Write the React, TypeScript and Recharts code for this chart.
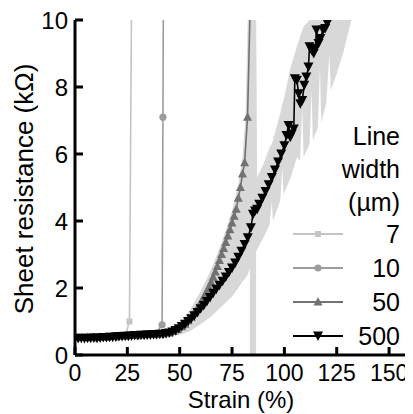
import React from 'react';
import { ComposedChart, Line, Area, XAxis, YAxis, Legend, Label } from 'recharts';

const W = 405;
const H = 406;
const FONT = '"Liberation Sans", Arial, Helvetica, sans-serif';

const xTicks = [0, 25, 50, 75, 100, 125, 150];
const yTicks = [0, 2, 4, 6, 8, 10];
const topTicks = [25, 50, 75, 100, 125, 150];
const rightTicks = [2, 4, 6, 8];
const seriesNames = ['7', '10', '50', '500'];
const legendTitle = ['Line', 'width', '(µm)'];
const xLabel = 'Strain (%)';
const yLabel = 'Sheet resistance (kΩ)';

const colors = ['#c4c4c4', '#9c9c9c', '#727272', '#000000'];
const shapes = ['square', 'circle', 'up', 'down'];

// [strain %, resistance kΩ]
const w7: number[][] = [[0, 0.5], [8, 0.5], [16, 0.52], [24, 0.55], [26, 1.0], [27, 10.5]];
const w10: number[][] = [[0, 0.5], [10, 0.5], [20, 0.53], [30, 0.57], [38, 0.6], [41.6, 0.9], [42, 7.1], [42.2, 10.5]];
const w50: number[][] = [
  [0, 0.52], [3, 0.52], [6, 0.52], [9, 0.53], [12, 0.53], [15, 0.54], [18, 0.55], [21, 0.56], [24, 0.57],
  [27, 0.58], [30, 0.59], [33, 0.6], [36, 0.61], [39, 0.62], [42, 0.63], [45, 0.66], [47, 0.7], [49, 0.76],
  [51, 0.84], [52.5, 0.92], [54, 1.02], [55.5, 1.13], [57, 1.26], [58.5, 1.4], [60, 1.55], [61, 1.66],
  [62, 1.78], [63, 1.9], [64, 2.03], [65, 2.17], [66, 2.32], [67, 2.48], [68, 2.64], [69, 2.82], [70, 3.0],
  [71, 3.18], [72, 3.36], [73, 3.55], [74, 3.74], [75, 3.94], [76, 4.14], [77, 4.35], [78, 4.68], [79, 5.0],
  [80, 5.4], [81, 5.74], [82.4, 7.1], [83.7, 10.5],
];
const w500: number[][] = [
  [0, 0.5], [1.5, 0.49], [3, 0.5], [4.5, 0.49], [6, 0.5], [7.5, 0.5], [9, 0.51], [10.5, 0.5], [12, 0.51],
  [13.5, 0.52], [15, 0.52], [16.5, 0.53], [18, 0.53], [19.5, 0.54], [21, 0.55], [22.5, 0.55], [24, 0.56],
  [25.5, 0.56], [27, 0.57], [28.5, 0.58], [30, 0.58], [31.5, 0.59], [33, 0.59], [34.5, 0.6], [36, 0.6],
  [37.5, 0.61], [39, 0.61], [40.5, 0.62], [42, 0.62], [43.5, 0.64], [45, 0.66], [46.5, 0.69], [48, 0.73],
  [49.5, 0.78], [51, 0.85], [52.5, 0.92], [54, 1.0], [55.5, 1.08], [57, 1.17], [58.5, 1.27], [60, 1.38],
  [61.5, 1.48], [63, 1.6], [64.5, 1.72], [66, 1.84], [67.5, 1.96], [69, 2.08], [70.5, 2.2], [72, 2.33],
  [73.5, 2.46], [75, 2.6], [76.5, 2.75], [78, 2.92], [79.5, 3.1], [81, 3.3], [82.5, 3.5], [84, 3.8],
  [85, 4.2], [86, 4.3], [87, 4.35], [88, 4.5], [89.5, 4.68], [91, 4.88], [92.5, 5.08], [94, 5.3],
  [95.5, 5.52], [97, 5.76], [98.5, 6.0], [100, 6.25], [101, 6.55], [102, 6.85], [102.8, 6.5], [103.5, 6.6],
  [104.5, 6.75], [105, 8.25], [106, 8.2], [106.8, 7.8], [107.6, 7.5], [108.5, 7.6], [109.5, 8.05],
  [110.5, 8.3], [111.5, 8.6], [112, 9.2], [113, 9.1], [114, 9.0], [114.8, 9.15], [115.3, 9.7], [116.3, 9.3],
  [117.2, 9.45], [118.5, 9.7], [119.5, 9.75], [120.5, 9.9], [121.5, 10.1], [122, 10.5],
];
// [strain, lower, upper] of the grey spread
const spread: number[][] = [
  [45, 0.55, 0.7], [50, 0.6, 0.95], [55, 0.72, 1.35], [60, 0.92, 1.9], [65, 1.15, 2.55], [70, 1.45, 3.35],
  [75, 1.75, 4.3], [78, 2.0, 5.1], [80, 2.2, 5.9], [81.5, 2.3, 7.2], [82.5, 2.4, 10], [86.5, 3.1, 10],
  [87, 3.15, 5.3], [90, 3.5, 5.7], [93, 3.9, 6.2], [94, 4.6, 6.3], [94.5, 4.0, 6.4], [98, 4.6, 7.2],
  [99, 5.6, 7.5], [99.6, 4.8, 7.6], [103, 5.3, 8.6], [106, 5.9, 9.2], [107.5, 5.8, 9.5], [108.5, 7.4, 9.7],
  [109.2, 5.9, 9.8], [112, 6.3, 10], [113, 7.9, 10], [113.6, 6.4, 10], [116, 6.8, 10], [117, 8.6, 10],
  [117.6, 6.95, 10], [120, 7.5, 10], [121.5, 9.0, 10], [122.2, 7.9, 10], [125, 8.4, 10], [128, 9.0, 10],
  [130, 9.5, 10], [132, 10, 10],
];
const gapBand: number[][] = [[83.5, 0, 10], [86.5, 0, 10]];

const toPts = (a: number[][]) => a.map(([x, y]) => ({ x, y }));
const toRange = (a: number[][]) => a.map(([x, lo, hi]) => ({ x, r: [lo, hi] }));

function drawMarker(shape: string, color: string, cx: number, cy: number, key?: any) {
  if (shape === 'square') return <rect key={key} x={cx - 3} y={cy - 3} width={6} height={6} fill={color} />;
  if (shape === 'circle') return <circle key={key} cx={cx} cy={cy} r={3.6} fill={color} />;
  if (shape === 'up')
    return <polygon key={key} points={`${cx},${cy - 5} ${cx - 4.5},${cy + 3.5} ${cx + 4.5},${cy + 3.5}`} fill={color} />;
  return <polygon key={key} points={`${cx - 5},${cy - 4.5} ${cx + 5},${cy - 4.5} ${cx},${cy + 5}`} fill={color} />;
}

const dotFn = (i: number) => (p: any) => {
  const { cx, cy, index, payload } = p;
  if (cx == null || cy == null || !payload || payload.y > 10) return <g key={`d${i}-${index}`} />;
  return drawMarker(shapes[i], colors[i], cx, cy, `d${i}-${index}`);
};

const BottomTick = (p: any) => {
  const { x, y, payload } = p;
  return (
    <g>
      <line x1={x} x2={x} y1={y} y2={y - 8} stroke="#000" strokeWidth={3} />
      <text x={x} y={y + 26} textAnchor="middle" fontSize={23} fontFamily={FONT} fill="#000">{payload.value}</text>
    </g>
  );
};
const LeftTick = (p: any) => {
  const { x, y, payload } = p;
  return (
    <g>
      <line x1={x} x2={x + 8} y1={y} y2={y} stroke="#000" strokeWidth={3} />
      <text x={x - 7} y={y + 9} textAnchor="end" fontSize={24} fontFamily={FONT} fill="#000">{payload.value}</text>
    </g>
  );
};
const TopTick = (p: any) => {
  const { x, y } = p;
  return <line x1={x} x2={x} y1={y} y2={y + 8} stroke="#000" strokeWidth={3} />;
};
const RightTick = (p: any) => {
  const { x, y } = p;
  return <line x1={x} x2={x - 8} y1={y} y2={y} stroke="#000" strokeWidth={3} />;
};

const LegendBox = () => {
  const rows = [226, 260, 294, 328];
  return (
    <svg width={W} height={H} style={{ position: 'absolute', left: 0, top: 0 }}>
      {legendTitle.map((t, i) => (
        <text key={t} x={392} y={137 + i * 33} textAnchor="end" fontSize={25} fontFamily={FONT} fill="#000">{t}</text>
      ))}
      {seriesNames.map((n, i) => (
        <g key={n}>
          <line x1={285} x2={335} y1={rows[i]} y2={rows[i]} stroke={colors[i]} strokeWidth={2} />
          {drawMarker(shapes[i], colors[i], 310, rows[i])}
          <text x={392} y={rows[i] + 9} textAnchor="end" fontSize={25} fontFamily={FONT} fill="#000">{n}</text>
        </g>
      ))}
    </svg>
  );
};

const series = [w7, w10, w50, w500];

export default function App() {
  return (
    <ComposedChart width={W} height={H} margin={{ top: 12, right: 3, bottom: 0, left: 0 }}>
      <XAxis
        type="number" dataKey="x" domain={[0, 160]} ticks={xTicks} allowDataOverflow interval={0}
        height={59} tickSize={0} tickMargin={0} tickLine={false} tick={<BottomTick />}
        axisLine={{ stroke: '#000', strokeWidth: 3 }}
      >
        <Label content={() => (
          <text x={233} y={400} textAnchor="middle" fontSize={24} fontFamily={FONT} fill="#000">{xLabel}</text>
        )} />
      </XAxis>
      <XAxis
        xAxisId="top" orientation="top" type="number" dataKey="x" domain={[0, 160]} ticks={topTicks}
        allowDataOverflow interval={0} height={0} tickSize={0} tickMargin={0} tickLine={false} tick={<TopTick />}
        axisLine={{ stroke: '#000', strokeWidth: 3 }}
      />
      <YAxis
        type="number" domain={[0, 10]} ticks={yTicks} allowDataOverflow interval={0} width={67}
        tickSize={0} tickMargin={0} tickLine={false} tick={<LeftTick />}
        axisLine={{ stroke: '#000', strokeWidth: 3 }}
      >
        <Label content={() => (
          <text x={25} y={181} transform="rotate(-90 25 181)" textAnchor="middle" fontSize={26} fontFamily={FONT} fill="#000">{yLabel}</text>
        )} />
      </YAxis>
      <YAxis
        yAxisId="right" orientation="right" type="number" domain={[0, 10]} ticks={rightTicks} allowDataOverflow
        interval={0} width={0} tickSize={0} tickMargin={0} tickLine={false} tick={<RightTick />}
        axisLine={{ stroke: '#000', strokeWidth: 3 }}
      />
      <Area data={toRange(spread)} dataKey="r" type="linear" stroke="none" fill="#d8d8d8" fillOpacity={1} isAnimationActive={false} />
      <Area data={toRange(gapBand)} dataKey="r" type="linear" stroke="none" fill="#d8d8d8" fillOpacity={1} isAnimationActive={false} />
      {series.map((s, i) => (
        <Line
          key={seriesNames[i]} data={toPts(s)} dataKey="y" type="linear" stroke={colors[i]} strokeWidth={1.6}
          dot={dotFn(i)} activeDot={false} isAnimationActive={false}
        />
      ))}
      <Legend layout="vertical" align="center" verticalAlign="middle" content={() => <LegendBox />}
        wrapperStyle={{ position: 'absolute', left: 0, top: 0, width: W, height: H, pointerEvents: 'none' }} />
    </ComposedChart>
  );
}
